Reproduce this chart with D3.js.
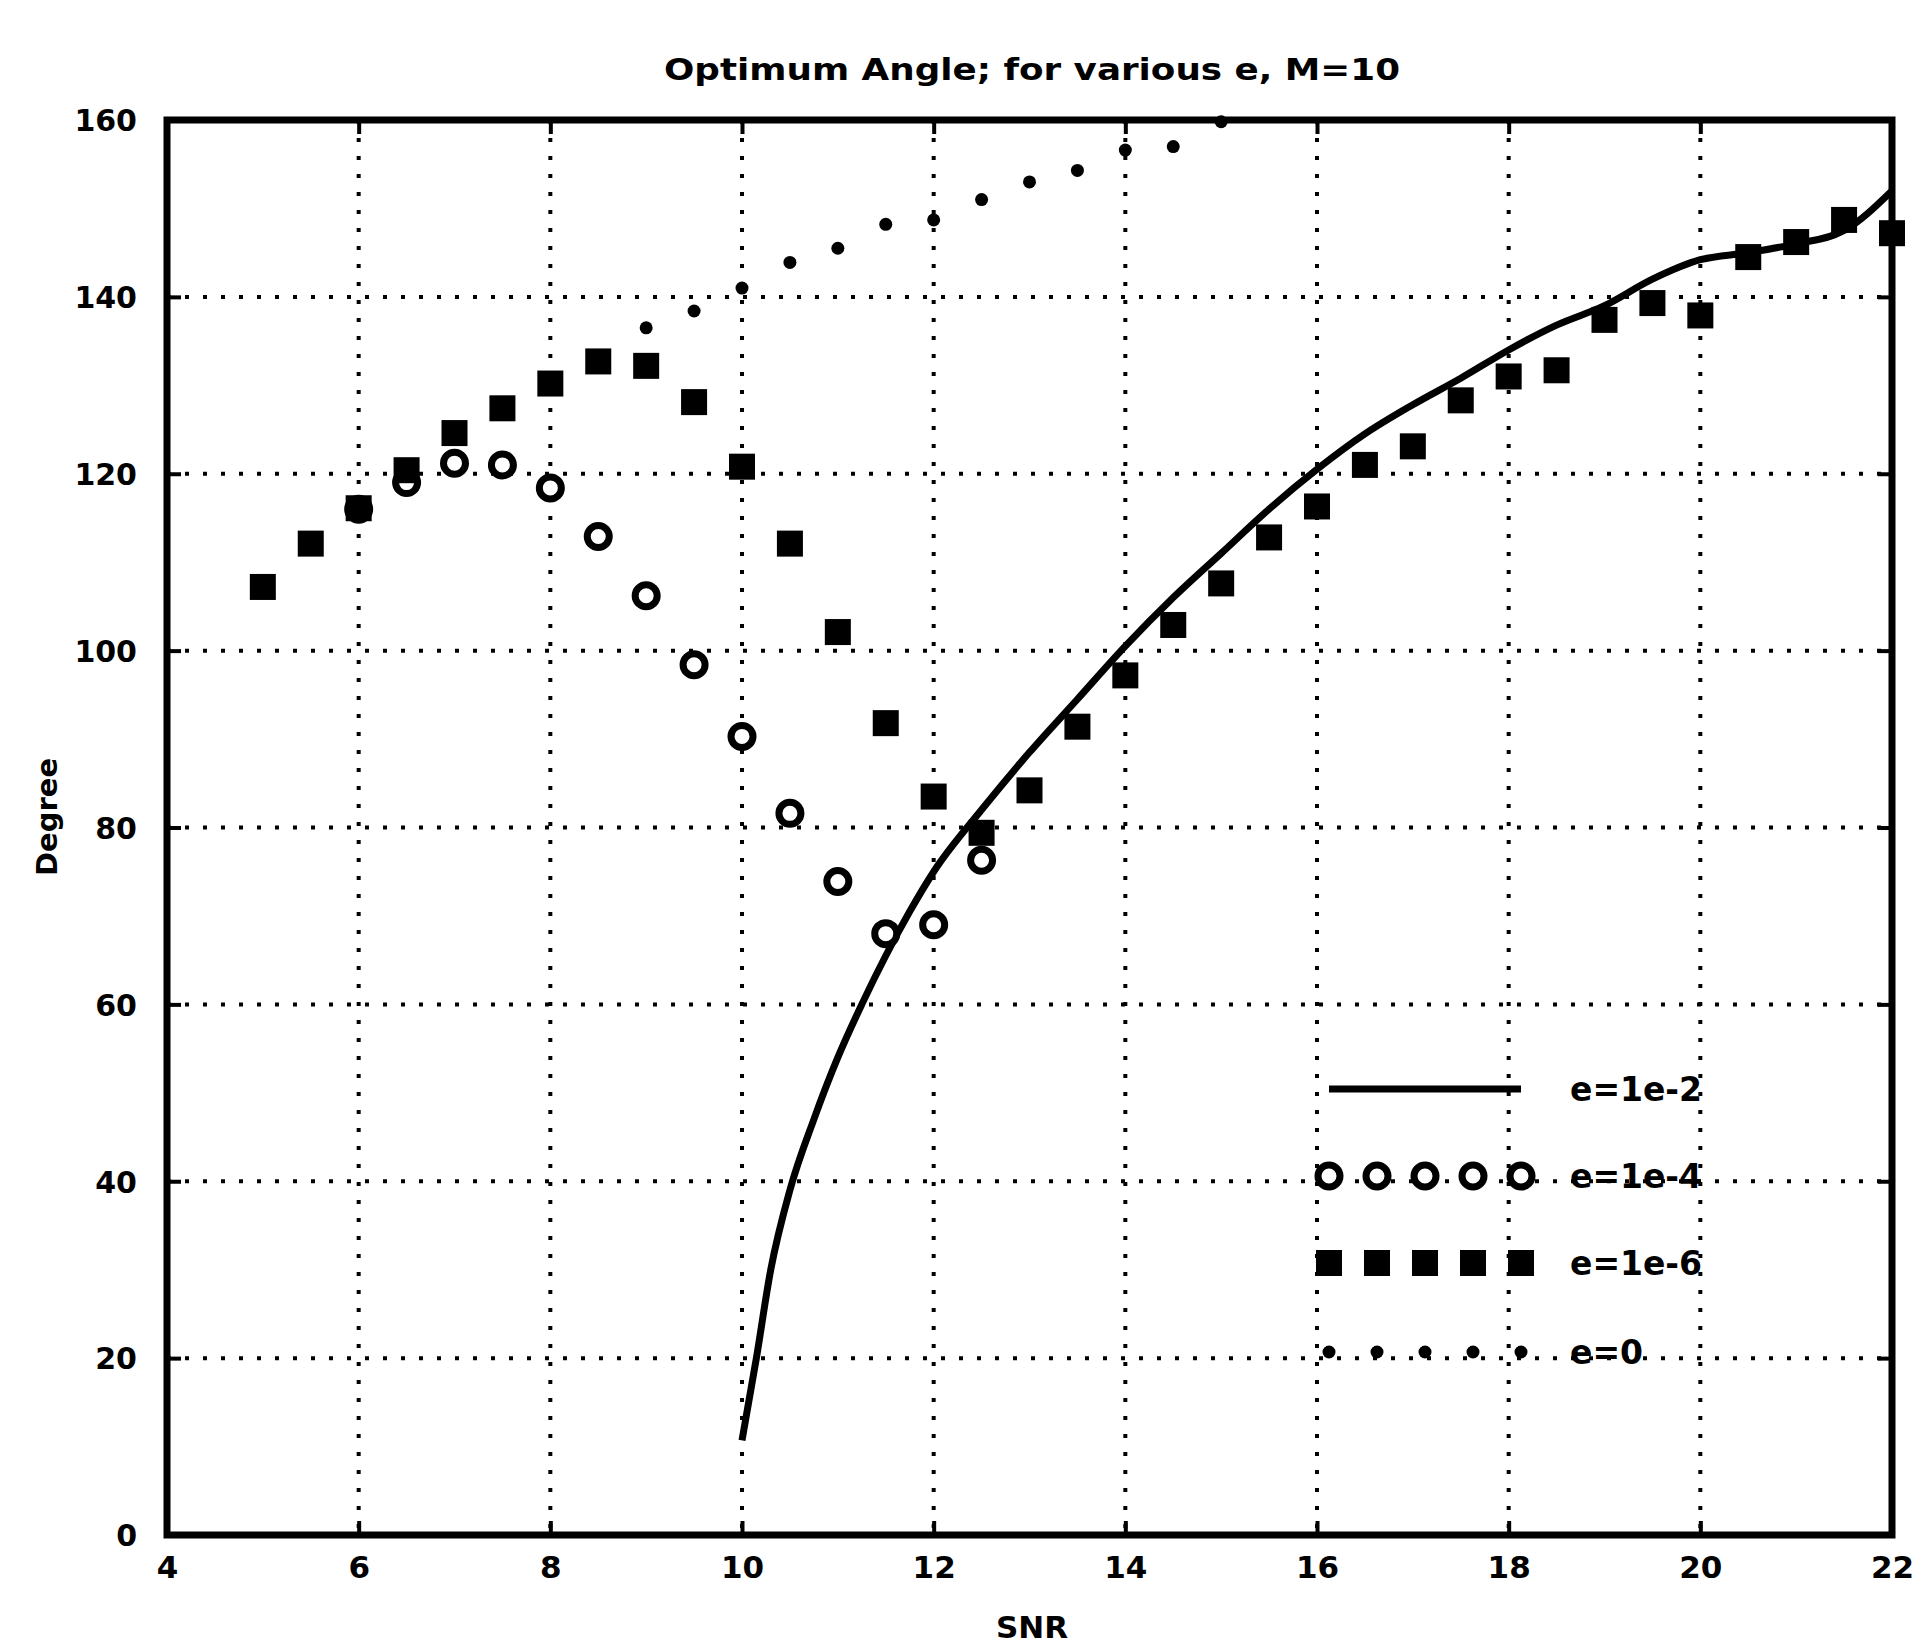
<!DOCTYPE html>
<html lang="en">
<head>
  <meta charset="UTF-8" />
  <title>Optimum Angle; for various e, M=10</title>
  <script src="https://d3js.org/d3.v7.min.js"></script>
  <style>
    body { margin:0; padding:0; background:#fff; }
    svg { display:block; background:#fff; }
    text { font-family:"DejaVu Sans", sans-serif; font-weight:bold; fill:#000; }
    .grid line { stroke:#000; stroke-width:4; stroke-dasharray:4,14; }
  </style>
</head>
<body>
  <svg id="chart" width="1926" height="1648"></svg>

  <script>
  // e=1e-2 (solid curve)
  const snrE2 = [10, 10.15, 10.3, 10.5, 10.75, 11, 11.25, 11.5, 11.75, 12, 12.5, 13, 13.5, 14, 14.5,
                 15, 15.5, 16, 16.5, 17, 17.5, 18, 18.5, 19, 19.5, 20, 20.5, 21, 21.5, 22];
  const degE2 = [10.7, 20, 30, 39, 47, 54, 60, 65.5, 70.5, 75, 82, 88.5, 94.5, 100.5, 106,
                 111, 116, 120.5, 124.5, 127.8, 130.8, 134, 136.8, 139, 142, 144.2, 145, 146, 147.5, 152];

  // e=1e-4 (circles)
  const snrE4 = [6, 6.5, 7, 7.5, 8, 8.5, 9, 9.5, 10, 10.5, 11, 11.5, 12, 12.5];
  const degE4 = [116, 119, 121.2, 121, 118.4, 112.9, 106.2, 98.4, 90.3, 81.6, 73.9, 68, 69, 76.3];

  // e=1e-6 (squares)
  const snrE6 = [5, 5.5, 6, 6.5, 7, 7.5, 8, 8.5, 9, 9.5, 10, 10.5, 11, 11.5, 12, 12.5, 13, 13.5,
                 14, 14.5, 15, 15.5, 16, 16.5, 17, 17.5, 18, 18.5, 19, 19.5, 20, 20.5, 21, 21.5, 22];
  const degE6 = [107.2, 112.1, 116.1, 120.4, 124.6, 127.4, 130.2, 132.7, 132.2, 128.1, 120.8, 112.1, 102.1, 91.8, 83.5, 79.4, 84.2, 91.4,
                 97.2, 102.9, 107.6, 112.8, 116.3, 121, 123.1, 128.3, 131, 131.7, 137.4, 139.3, 137.9, 144.5, 146.2, 148.7, 147.2];

  // e=0 (dots)
  const snrE0 = [9, 9.5, 10, 10.5, 11, 11.5, 12, 12.5, 13, 13.5, 14, 14.5, 15];
  const degE0 = [136.5, 138.4, 141, 143.9, 145.5, 148.2, 148.7, 151, 153, 154.3, 156.6, 157, 159.8];

  const xTicks = [4, 6, 8, 10, 12, 14, 16, 18, 20, 22];
  const yTicks = [0, 20, 40, 60, 80, 100, 120, 140, 160];
  const legendLabels = ["e=1e-2", "e=1e-4", "e=1e-6", "e=0"];

  const svg = d3.select('#chart');
  const L = 167, R = 1892, T = 120, B = 1535;

  const x = d3.scaleLinear().domain([4, 22]).range([L, R]);
  const y = d3.scaleLinear().domain([0, 160]).range([B, T]);

  // dotted grid
  const grid = svg.append('g').attr('class', 'grid');
  grid.selectAll('.gx').data(xTicks.slice(1, -1)).enter().append('line')
    .attr('x1', d => x(d)).attr('x2', d => x(d))
    .attr('y1', T).attr('y2', B);
  grid.selectAll('.gy').data(yTicks.slice(1, -1)).enter().append('line')
    .attr('x1', L).attr('x2', R)
    .attr('y1', d => y(d)).attr('y2', d => y(d));

  // axes (ticks inward, labels)
  const tickLen = 14;
  const fmt = d3.format('d');
  const axB = svg.append('g').attr('transform', `translate(0,${B})`)
    .call(d3.axisBottom(x).tickValues(xTicks).tickSizeInner(-tickLen).tickSizeOuter(0).tickPadding(40).tickFormat(fmt));
  const axL = svg.append('g').attr('transform', `translate(${L},0)`)
    .call(d3.axisLeft(y).tickValues(yTicks).tickSizeInner(-tickLen).tickSizeOuter(0).tickPadding(30).tickFormat(fmt));
  svg.append('g').attr('transform', `translate(0,${T})`)
    .call(d3.axisTop(x).tickValues(xTicks).tickSizeInner(-tickLen).tickSizeOuter(0).tickFormat(''));
  svg.append('g').attr('transform', `translate(${R},0)`)
    .call(d3.axisRight(y).tickValues(yTicks).tickSizeInner(-tickLen).tickSizeOuter(0).tickFormat(''));
  svg.selectAll('.domain').remove();
  svg.selectAll('.tick line').attr('stroke', '#000').attr('stroke-width', 4);
  axB.selectAll('text').style('font-size', '31px').attr('dy', '0.1em');
  axL.selectAll('text').style('font-size', '30px').attr('dy', '0.36em');

  // frame
  svg.append('rect')
    .attr('x', L).attr('y', T).attr('width', R - L).attr('height', B - T)
    .attr('fill', 'none').attr('stroke', '#000').attr('stroke-width', 7);

  // e=1e-2 curve
  const lineGen = d3.line().x(d => x(d[0])).y(d => y(d[1])).curve(d3.curveMonotoneX);
  svg.append('path')
    .datum(d3.zip(snrE2, degE2))
    .attr('d', lineGen)
    .attr('fill', 'none').attr('stroke', '#000').attr('stroke-width', 7);

  // e=1e-4 circles
  svg.selectAll('.c4').data(d3.zip(snrE4, degE4)).enter().append('circle')
    .attr('cx', d => x(d[0])).attr('cy', d => y(d[1])).attr('r', 11)
    .attr('fill', '#fff').attr('stroke', '#000').attr('stroke-width', 7);

  // e=1e-6 squares
  const sq = 26;
  svg.selectAll('.s6').data(d3.zip(snrE6, degE6)).enter().append('rect')
    .attr('x', d => x(d[0]) - sq / 2).attr('y', d => y(d[1]) - sq / 2)
    .attr('width', sq).attr('height', sq).attr('fill', '#000');

  // e=0 dots
  svg.selectAll('.d0').data(d3.zip(snrE0, degE0)).enter().append('circle')
    .attr('cx', d => x(d[0])).attr('cy', d => y(d[1])).attr('r', 6.5)
    .attr('fill', '#000');

  // legend
  const lgX0 = 1329, lgX1 = 1521, lgText = 1570;
  const lgY = [1089, 1176, 1263, 1352];
  const mk = d3.range(5).map(i => lgX0 + i * (lgX1 - lgX0) / 4);
  const lg = svg.append('g');
  lg.append('line').attr('x1', lgX0).attr('x2', lgX1).attr('y1', lgY[0]).attr('y2', lgY[0])
    .attr('stroke', '#000').attr('stroke-width', 7);
  lg.selectAll('.lc').data(mk).enter().append('circle')
    .attr('cx', d => d).attr('cy', lgY[1]).attr('r', 11)
    .attr('fill', '#fff').attr('stroke', '#000').attr('stroke-width', 7);
  lg.selectAll('.ls').data(mk).enter().append('rect')
    .attr('x', d => d - sq / 2).attr('y', lgY[2] - sq / 2).attr('width', sq).attr('height', sq)
    .attr('fill', '#000');
  lg.selectAll('.ld').data(mk).enter().append('circle')
    .attr('cx', d => d).attr('cy', lgY[3]).attr('r', 6.5).attr('fill', '#000');
  lg.selectAll('.lt').data(legendLabels).enter().append('text')
    .attr('x', lgText).attr('y', (d, i) => lgY[i]).attr('dy', '0.36em')
    .style('font-size', '33px').text(d => d);

  // title and axis labels
  svg.append('text').attr('x', 1032).attr('y', 80).attr('text-anchor', 'middle')
    .attr('textLength', 736).attr('lengthAdjust', 'spacingAndGlyphs')
    .style('font-size', '30px').text('Optimum Angle; for various e, M=10');
  svg.append('text').attr('x', 1032).attr('y', 1638).attr('text-anchor', 'middle')
    .style('font-size', '31px').text('SNR');
  svg.append('text').attr('transform', 'translate(57,817) rotate(-90)').attr('text-anchor', 'middle')
    .style('font-size', '29px').text('Degree');
  </script>
</body>
</html>
